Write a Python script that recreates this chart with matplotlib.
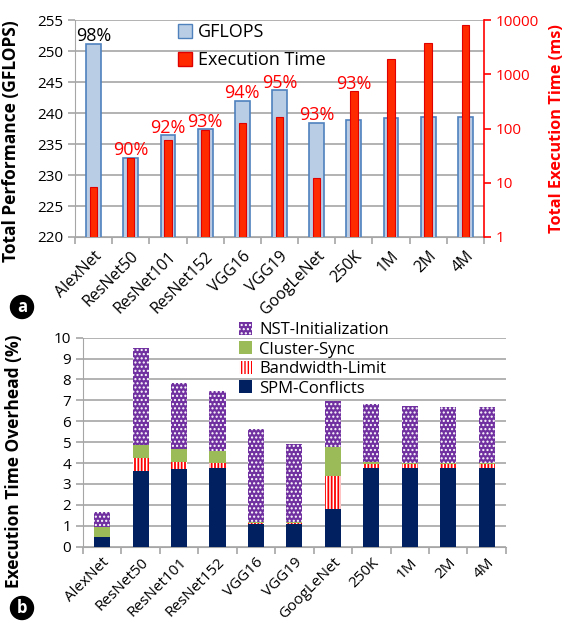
import numpy as np
import matplotlib
matplotlib.use("Agg")
import matplotlib.pyplot as plt
from matplotlib.patches import Patch

plt.rcParams['font.family'] = ['Open Sans', 'DejaVu Sans']

# ---- data ----
models = ["AlexNet", "ResNet50", "ResNet101", "ResNet152", "VGG16", "VGG19",
          "GoogLeNet", "250K", "1M", "2M", "4M"]
gflops = [251.2, 232.8, 236.4, 237.4, 242.0, 243.7, 238.4, 238.9, 239.2, 239.3, 239.3]
exec_time = [8.2, 29, 61, 93, 129, 164, 12.1, 488, 1920, 3860, 8050]
eff_labels = ["98%", "90%", "92%", "93%", "94%", "95%", "93%", "93%", "", "", ""]

spm = [0.48, 3.63, 3.73, 3.78, 1.10, 1.10, 1.82, 3.78, 3.78, 3.78, 3.78]
bandwidth = [0.0, 0.61, 0.30, 0.20, 0.02, 0.02, 1.56, 0.16, 0.16, 0.16, 0.16]
cluster = [0.48, 0.64, 0.66, 0.61, 0.05, 0.05, 1.40, 0.11, 0.06, 0.06, 0.06]
nst = [0.70, 4.61, 3.15, 2.87, 4.45, 3.74, 2.18, 2.78, 2.74, 2.70, 2.67]

x = np.arange(len(models))
grid_c = "#a6a6a6"
red = "#ff0000"

fig = plt.figure(figsize=(5.64, 6.23), dpi=100)

# ---------------- panel a ----------------
ax = fig.add_axes([0.133, 0.6196, 0.725, 0.348])
ax2 = ax.twinx()
ax.set_zorder(ax2.get_zorder() - 1)
ax2.patch.set_visible(False)

ax.bar(x, gflops, width=0.40, color="#b9cde5", edgecolor="#4f81bd",
       linewidth=1.2, zorder=3)
ax.set_ylim(220, 255)
ax.set_yticks(np.arange(220, 256, 5))
ax.set_xlim(-0.5, len(models) - 0.5)
ax.grid(axis="y", color=grid_c, linewidth=1.2, zorder=0)
ax.set_axisbelow(True)

ax2.bar(x, exec_time, width=0.2, color="#ff2a00", edgecolor="#e00000",
        linewidth=0.8, zorder=3)
ax2.set_yscale("log")
ax2.set_ylim(1, 10000)
ax2.set_yticks([1, 10, 100, 1000, 10000])
ax2.set_yticklabels(["1", "10", "100", "1000", "10000"])
ax2.minorticks_off()

ax.spines["top"].set_visible(False)
ax2.spines["top"].set_visible(False)
ax.spines["left"].set_color(grid_c)
ax.spines["bottom"].set_color(grid_c)
ax.spines["right"].set_visible(False)
ax2.spines["left"].set_visible(False)
ax2.spines["bottom"].set_visible(False)
ax2.spines["right"].set_color(red)
ax2.spines["right"].set_linewidth(1.2)

ax.tick_params(axis="y", colors="black", labelsize=11, length=5, color=grid_c, width=1.2)
ax2.tick_params(axis="y", colors=red, labelsize=11, length=5, width=1.2)
ax.set_xticks(x)
ax.set_xticklabels(models, rotation=45, ha="right", rotation_mode="anchor", fontsize=11.5)
ax.tick_params(axis="x", which="major", length=0, pad=8)
ax.set_xticks(np.arange(-0.5, len(models), 1), minor=True)
ax.tick_params(axis="x", which="minor", length=5, color=grid_c, width=1.2)

ax.set_ylabel("Total Performance (GFLOPS)", fontsize=12.5, fontweight="bold")
ax.yaxis.set_label_coords(-0.134, 0.44)
ax2.set_ylabel("Total Execution Time (ms)", fontsize=11.8, fontweight="bold", color=red)
ax2.yaxis.set_label_coords(1.158, 0.5)

# efficiency labels above the taller of the two bars
for i, lab in enumerate(eff_labels):
    if not lab:
        continue
    red_equiv = 220 + 35 * np.log10(exec_time[i]) / 4
    top = max(gflops[i], red_equiv)
    ax.annotate(lab, (x[i], top), xytext=(0, -1), textcoords="offset points",
                ha="center", va="bottom", fontsize=13,
                color="black" if i == 0 else red, zorder=5)

h = [Patch(facecolor="#b9cde5", edgecolor="#4f81bd"),
     Patch(facecolor="#ff2a00", edgecolor="#e00000")]
ax.legend(h, ["GFLOPS", "Execution Time"], loc="upper left",
          bbox_to_anchor=(0.252, 0.985), frameon=False, fontsize=13,
          borderpad=0, borderaxespad=0,
          handlelength=0.8, handleheight=0.8, handletextpad=0.3, labelspacing=0.55)

# ---------------- panel b ----------------
bx = fig.add_axes([0.147, 0.1225, 0.75, 0.3355])
w = 0.42
b1 = np.array(spm)
b2 = b1 + np.array(bandwidth)
b3 = b2 + np.array(cluster)
bx.bar(x, spm, width=w, color="#002060", zorder=3, label="SPM-Conflicts")
with plt.rc_context({"hatch.linewidth": 1.3}):
    bx.bar(x, bandwidth, width=w, bottom=b1, color="white", edgecolor=red,
           hatch="|||||", linewidth=0, zorder=3, label="Bandwidth-Limit")
bx.bar(x, cluster, width=w, bottom=b2, color="#9bbb59", zorder=3, label="Cluster-Sync")
with plt.rc_context({"hatch.linewidth": 1.0}):
    bx.bar(x, nst, width=w, bottom=b3, color="#7030a0", edgecolor="white",
           hatch="....", linewidth=0, zorder=3, label="NST-Initialization")
bx.set_ylim(0, 10)
bx.set_yticks(np.arange(0, 11, 1))
bx.set_xlim(-0.5, len(models) - 0.5)
bx.grid(axis="y", color=grid_c, linewidth=1.2, zorder=0)
bx.set_axisbelow(True)
for s in ["top", "right"]:
    bx.spines[s].set_visible(False)
bx.spines["left"].set_color(grid_c)
bx.spines["bottom"].set_color(grid_c)
bx.tick_params(axis="y", labelsize=11, length=5, color=grid_c, width=1.2)
bx.set_xticks(x)
bx.set_xticklabels(models, rotation=45, ha="right", rotation_mode="anchor", fontsize=11)
bx.tick_params(axis="x", which="major", length=0, pad=6)
bx.set_xticks(np.arange(-0.5, len(models), 1), minor=True)
bx.tick_params(axis="x", which="minor", length=5, color=grid_c, width=1.2)
bx.set_ylabel("Execution Time Overhead (%)", fontsize=12.5, fontweight="bold")
bx.yaxis.set_label_coords(-0.142, 0.41)

hh, ll = bx.get_legend_handles_labels()
bx.legend(hh[::-1], ll[::-1], loc="upper left", bbox_to_anchor=(0.369, 1.075),
          frameon=False, fontsize=12, handlelength=0.8, handleheight=0.8,
          borderpad=0, borderaxespad=0,
          handletextpad=0.4, labelspacing=0.2)

# panel markers
for yy, t in [(1 - 307 / 623, "a"), (1 - 608 / 623, "b")]:
    fig.text(22 / 564, yy, t, color="white", fontsize=12, fontweight="bold",
             ha="center", va="center",
             bbox=dict(boxstyle="circle,pad=0.15", facecolor="black", edgecolor="black"))

fig.savefig("out.png", dpi=100)
